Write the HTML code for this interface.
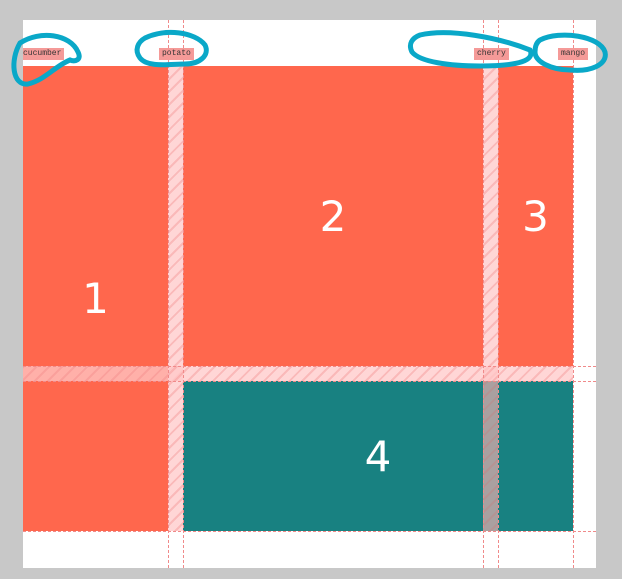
<!DOCTYPE html>
<html><head><meta charset="utf-8"><style>
html,body{margin:0;padding:0}
body{width:622px;height:579px;background:#c8c8c8;position:relative;overflow:hidden;font-family:"Liberation Sans",sans-serif}
.abs{position:absolute}
.panel{left:23px;top:20px;width:573px;height:548px;background:#fff}
.item{color:#fff;display:flex;align-items:center;justify-content:center;font-size:42px;font-family:"DejaVu Sans","Liberation Sans",sans-serif;font-weight:normal}
.coral{background:#ff674d}
.teal{background:#188181}
.gap{background:rgba(255,200,200,0.75);background-image:repeating-linear-gradient(135deg,rgba(240,130,130,0.35) 0 2px,transparent 2px 9px)}
.vl{width:0;border-left:1px dashed #f08a8a}
.hl{height:0;border-top:1px dashed #f08a8a}
.tag{background:#f59a98;color:#333;font-family:"Liberation Mono",monospace;font-size:8px;line-height:12px;height:12px;padding:0 3px}
</style></head><body>
<div class="abs panel"></div>
<div class="abs item coral" style="left:23px;top:66px;width:145px;height:465px">1</div>
<div class="abs item coral" style="left:183px;top:66px;width:300px;height:300px">2</div>
<div class="abs item coral" style="left:498px;top:66px;width:75px;height:300px">3</div>
<div class="abs item teal" style="left:183px;top:381px;width:390px;height:150px">4</div>
<div class="abs gap" style="left:168px;top:66px;width:15px;height:465px"></div>
<div class="abs gap" style="left:483px;top:66px;width:15px;height:465px"></div>
<div class="abs gap" style="left:23px;top:366px;width:550px;height:15px"></div>
<div class="abs" style="left:483px;top:381px;width:15px;height:150px;background:rgba(120,120,120,0.35)"></div>
<div class="abs vl" style="left:168px;top:20px;height:548px"></div>
<div class="abs vl" style="left:183px;top:20px;height:548px"></div>
<div class="abs vl" style="left:483px;top:20px;height:548px"></div>
<div class="abs vl" style="left:498px;top:20px;height:548px"></div>
<div class="abs vl" style="left:573px;top:20px;height:548px"></div>
<div class="abs hl" style="left:23px;top:366px;width:573px"></div>
<div class="abs hl" style="left:23px;top:381px;width:573px"></div>
<div class="abs hl" style="left:23px;top:531px;width:573px"></div>
<div class="abs tag" style="left:23px;top:48px;padding-left:0">cucumber</div>
<div class="abs tag" style="left:159px;top:48px">potato</div>
<div class="abs tag" style="left:474px;top:48px">cherry</div>
<div class="abs tag" style="left:558px;top:48px">mango</div>
<svg class="abs" style="left:0;top:0" width="622" height="579">
<g fill="none" stroke="#0aa8c8" stroke-width="5" stroke-linecap="round">
<path d="M20,43 C40,30 70,34 78,52 C82,60 75,62 70,60 C55,66 45,80 28,84 C12,86 10,60 20,43 Z"/>
<path d="M145,38 C165,28 195,32 205,45 C210,55 200,64 185,64 C170,64 148,68 140,58 C134,50 138,42 145,38 Z"/>
<path d="M420,35 C450,28 500,38 530,50 C535,60 520,66 480,66 C450,66 420,62 412,52 C408,44 412,38 420,35 Z"/>
<path d="M540,40 C560,30 600,36 605,52 C608,65 590,72 570,70 C552,70 535,62 535,52 C535,46 537,42 540,40 Z"/>
</g></svg>
</body></html>
